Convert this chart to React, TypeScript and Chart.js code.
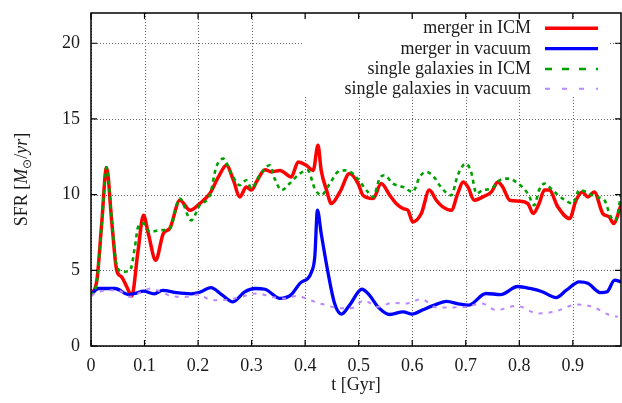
import React, { useEffect, useRef } from 'react';
import { Chart, registerables } from 'chart.js';

Chart.register(...registerables);

const FONT = '"Liberation Serif", "Times New Roman", serif';
const TEXT = '#1a1a1a';

// ---- axes ----
const xTicks = [0, 0.1, 0.2, 0.3, 0.4, 0.5, 0.6, 0.7, 0.8, 0.9];
const xTickLabels = ['0', '0.1', '0.2', '0.3', '0.4', '0.5', '0.6', '0.7', '0.8', '0.9'];
const yTicks = [0, 5, 10, 15, 20];
const yTickLabels = ['0', '5', '10', '15', '20'];
const xMin = 0;
const xMax = 0.99;
const yMin = 0;
const yMax = 22;
const xTitle = 't [Gyr]';

// ---- series names ----
const seriesNames = [
  'merger in ICM',
  'merger in vacuum',
  'single galaxies in ICM',
  'single galaxies in vacuum',
];

// ---- merger in ICM ----
const tMergerICM = [0, 0.011, 0.02, 0.029, 0.039, 0.048, 0.057, 0.067, 0.076, 0.088, 0.098, 0.107, 0.121, 0.135, 0.147, 0.166, 0.185, 0.203, 0.222, 0.238, 0.253, 0.266, 0.278, 0.29, 0.3, 0.31, 0.325, 0.337, 0.353, 0.374, 0.387, 0.402, 0.415, 0.424, 0.43, 0.44, 0.449, 0.465, 0.483, 0.499, 0.508, 0.527, 0.542, 0.558, 0.57, 0.583, 0.592, 0.601, 0.617, 0.632, 0.645, 0.657, 0.673, 0.685, 0.695, 0.704, 0.716, 0.732, 0.748, 0.76, 0.769, 0.782, 0.8, 0.816, 0.826, 0.837, 0.847, 0.856, 0.872, 0.894, 0.906, 0.918, 0.928, 0.94, 0.956, 0.968, 0.976, 0.99];
const sfrMergerICM = [3.4, 4.35, 8.1, 11.8, 8.1, 5.0, 4.57, 3.9, 3.3, 6.33, 8.64, 7.43, 5.67, 7.43, 7.76, 9.63, 8.97, 9.41, 10.07, 11.17, 11.94, 10.95, 9.85, 10.5, 10.3, 10.9, 11.65, 11.5, 11.6, 11.17, 12.16, 11.94, 11.6, 13.26, 11.6, 10.3, 9.41, 10.18, 11.39, 10.73, 9.96, 9.74, 10.73, 9.96, 9.41, 9.08, 8.97, 8.2, 8.75, 10.3, 9.63, 9.19, 8.97, 10.07, 10.84, 10.51, 9.63, 9.85, 10.18, 10.84, 10.51, 9.63, 9.57, 9.41, 8.75, 9.41, 10.3, 10.3, 9.19, 8.42, 9.63, 10.18, 9.85, 10.18, 8.75, 8.53, 8.09, 9.3];

// ---- merger in vacuum ----
const tMergerVac = [0, 0.014, 0.045, 0.07, 0.082, 0.098, 0.118, 0.134, 0.16, 0.187, 0.203, 0.224, 0.244, 0.265, 0.287, 0.307, 0.325, 0.353, 0.373, 0.39, 0.412, 0.418, 0.423, 0.43, 0.443, 0.455, 0.468, 0.483, 0.506, 0.52, 0.536, 0.558, 0.583, 0.6, 0.62, 0.645, 0.664, 0.688, 0.705, 0.738, 0.765, 0.797, 0.82, 0.843, 0.869, 0.888, 0.912, 0.928, 0.952, 0.964, 0.978, 0.99];
const sfrMergerVac = [3.4, 3.8, 3.8, 3.4, 3.47, 3.62, 3.45, 3.67, 3.52, 3.45, 3.55, 3.86, 3.4, 2.92, 3.58, 3.8, 3.75, 3.15, 3.36, 4.13, 4.9, 5.89, 8.97, 7.43, 4.79, 2.81, 2.11, 2.7, 3.75, 3.36, 2.59, 2.08, 2.26, 2.11, 2.4, 2.75, 2.95, 2.77, 2.7, 3.47, 3.4, 3.93, 3.8, 3.58, 3.2, 3.69, 4.24, 4.15, 3.52, 3.58, 4.35, 4.24];

// ---- single galaxies in ICM ----
const tSingleICM = [0, 0.011, 0.02, 0.029, 0.039, 0.048, 0.06, 0.073, 0.082, 0.088, 0.098, 0.11, 0.129, 0.147, 0.166, 0.187, 0.203, 0.222, 0.234, 0.247, 0.262, 0.278, 0.29, 0.3, 0.315, 0.334, 0.343, 0.356, 0.371, 0.39, 0.405, 0.418, 0.43, 0.446, 0.461, 0.474, 0.489, 0.505, 0.517, 0.527, 0.539, 0.548, 0.564, 0.583, 0.601, 0.614, 0.626, 0.642, 0.651, 0.673, 0.685, 0.7, 0.71, 0.72, 0.732, 0.748, 0.763, 0.779, 0.798, 0.816, 0.828, 0.837, 0.847, 0.862, 0.881, 0.9, 0.912, 0.925, 0.943, 0.959, 0.971, 0.98, 0.99];
const sfrSingleICM = [3.3, 4.3, 8.0, 11.8, 8.3, 5.3, 4.9, 5.0, 6.55, 7.87, 8.1, 7.54, 7.65, 7.76, 9.74, 8.3, 9.3, 9.96, 11.83, 12.38, 11.39, 10.62, 10.95, 10.4, 11.28, 11.94, 11.06, 10.3, 10.73, 11.39, 11.6, 10.4, 9.96, 10.73, 11.5, 11.6, 11.39, 10.73, 10.18, 9.85, 11.06, 11.28, 10.73, 10.5, 10.18, 11.17, 11.5, 11.1, 10.62, 9.96, 11.28, 12.05, 11.5, 10.07, 10.3, 10.4, 10.95, 11.06, 10.73, 10.07, 9.3, 10.3, 10.73, 10.3, 9.74, 9.41, 10.3, 10.18, 9.85, 9.63, 8.53, 8.31, 9.96];

// ---- single galaxies in vacuum ----
const tSingleVac = [0, 0.014, 0.05, 0.073, 0.09, 0.113, 0.131, 0.15, 0.18, 0.2, 0.226, 0.256, 0.28, 0.31, 0.337, 0.36, 0.384, 0.402, 0.41, 0.427, 0.44, 0.462, 0.486, 0.51, 0.535, 0.564, 0.59, 0.617, 0.645, 0.67, 0.7, 0.73, 0.757, 0.795, 0.835, 0.865, 0.908, 0.937, 0.965, 0.984];
const sfrSingleVac = [3.3, 3.58, 3.69, 3.25, 3.5, 3.8, 3.58, 3.3, 3.25, 3.4, 3.03, 3.05, 3.25, 3.47, 3.25, 3.14, 3.3, 3.14, 3.03, 2.81, 2.7, 2.5, 2.5, 3.0, 2.59, 2.85, 2.81, 3.1, 2.55, 2.55, 2.59, 2.81, 2.37, 2.65, 2.15, 2.26, 2.74, 2.59, 2.1, 1.93];

const colors = ['#ff0000', '#0000ff', '#00a000', '#b987ff'];
const widths = [3.5, 3.3, 2.6, 2];
const dashes: number[][] = [[], [], [4, 4], [4, 6]];
const legendDashes: number[][] = [[], [], [7, 10], [5, 12]];

const toPts = (t: number[], v: number[]) => t.map((x, i) => ({ x, y: v[i] }));

const framePlugin = {
  id: 'gnuplotFrame',
  beforeDatasetsDraw(chart: any) {
    const { ctx, chartArea: a, scales } = chart;
    const xs = scales.x;
    const ys = scales.y;
    ctx.save();
    ctx.strokeStyle = '#666666';
    ctx.lineWidth = 1;
    ctx.setLineDash([1, 2]);
    xTicks.forEach((v) => {
      const px = Math.round(xs.getPixelForValue(v)) + 0.5;
      ctx.beginPath();
      ctx.moveTo(px, a.top);
      ctx.lineTo(px, a.bottom);
      ctx.stroke();
    });
    yTicks.forEach((v) => {
      const py = Math.round(ys.getPixelForValue(v)) + 0.5;
      ctx.beginPath();
      ctx.moveTo(a.left, py);
      ctx.lineTo(a.right, py);
      ctx.stroke();
    });
    ctx.restore();
  },
  afterDatasetsDraw(chart: any) {
    const { ctx, chartArea: a, scales } = chart;
    const xs = scales.x;
    const ys = scales.y;
    ctx.save();
    // legend box (opaque)
    ctx.fillStyle = '#ffffff';
    ctx.fillRect(303, 19, 307, 78);
    const rowY = [28.3, 48.7, 69, 88.7];
    ctx.font = `18px ${FONT}`;
    ctx.textAlign = 'right';
    ctx.textBaseline = 'alphabetic';
    seriesNames.forEach((name, i) => {
      const y = rowY[i];
      ctx.fillStyle = TEXT;
      ctx.fillText(name, 531, y + 5);
      ctx.strokeStyle = colors[i];
      ctx.lineWidth = widths[i];
      ctx.setLineDash(legendDashes[i]);
      ctx.beginPath();
      ctx.moveTo(545, y);
      ctx.lineTo(598, y);
      ctx.stroke();
    });
    ctx.setLineDash([]);
    // border
    ctx.strokeStyle = '#000';
    ctx.lineWidth = 1.5;
    ctx.strokeRect(a.left, a.top, a.right - a.left, a.bottom - a.top);
    // tick marks (inward, mirrored)
    ctx.lineWidth = 1.2;
    const tl = 6;
    xTicks.forEach((v) => {
      const px = xs.getPixelForValue(v);
      ctx.beginPath();
      ctx.moveTo(px, a.bottom);
      ctx.lineTo(px, a.bottom - tl);
      ctx.moveTo(px, a.top);
      ctx.lineTo(px, a.top + tl);
      ctx.stroke();
    });
    yTicks.forEach((v) => {
      const py = ys.getPixelForValue(v);
      ctx.beginPath();
      ctx.moveTo(a.left, py);
      ctx.lineTo(a.left + tl, py);
      ctx.moveTo(a.right, py);
      ctx.lineTo(a.right - tl, py);
      ctx.stroke();
    });
    // x title
    ctx.fillStyle = TEXT;
    ctx.font = `18px ${FONT}`;
    ctx.textAlign = 'center';
    ctx.textBaseline = 'middle';
    ctx.fillText(xTitle, (a.left + a.right) / 2, 385);
    // y title: SFR [M_sun / yr] with italics
    const segs = [
      { t: 'SFR [', f: `18px ${FONT}`, dy: 0 },
      { t: 'M', f: `italic 18px ${FONT}`, dy: 0 },
      { t: '\u2299', f: `12px ${FONT}`, dy: 4 },
      { t: '/', f: `18px ${FONT}`, dy: 0 },
      { t: 'yr', f: `italic 18px ${FONT}`, dy: 0 },
      { t: ']', f: `18px ${FONT}`, dy: 0 },
    ];
    let total = 0;
    const ws = segs.map((s) => {
      ctx.font = s.f;
      const w = ctx.measureText(s.t).width;
      total += w;
      return w;
    });
    ctx.translate(21, (a.top + a.bottom) / 2);
    ctx.rotate(-Math.PI / 2);
    ctx.textAlign = 'left';
    ctx.textBaseline = 'alphabetic';
    let cx = -total / 2;
    segs.forEach((s, i) => {
      ctx.font = s.f;
      ctx.fillText(s.t, cx, 6 + s.dy);
      cx += ws[i];
    });
    ctx.restore();
  },
};

export default function App() {
  const ref = useRef<HTMLCanvasElement | null>(null);
  useEffect(() => {
    if (!ref.current) return;
    const series = [
      toPts(tMergerICM, sfrMergerICM),
      toPts(tMergerVac, sfrMergerVac),
      toPts(tSingleICM, sfrSingleICM),
      toPts(tSingleVac, sfrSingleVac),
    ];
    const chart = new Chart(ref.current, {
      type: 'line',
      data: {
        datasets: series.map((d, i) => ({
          label: seriesNames[i],
          data: d,
          borderColor: colors[i],
          backgroundColor: colors[i],
          borderWidth: widths[i],
          borderDash: dashes[i],
          pointRadius: 0,
          fill: false,
          cubicInterpolationMode: 'monotone' as const,
          order: 4 - i,
        })),
      },
      options: {
        responsive: false,
        animation: false,
        devicePixelRatio: 1,
        layout: { padding: { top: 13, right: 1, left: 0, bottom: 0 } },
        plugins: { legend: { display: false }, tooltip: { enabled: false } },
        scales: {
          x: {
            type: 'linear',
            min: xMin,
            max: xMax,
            grid: { display: false, drawTicks: false },
            border: { display: false },
            afterBuildTicks: (s: any) => {
              s.ticks = xTicks.map((v) => ({ value: v }));
            },
            afterFit: (s: any) => {
              s.height = 57;
              s.paddingLeft = 0;
              s.paddingRight = 0;
            },
            ticks: {
              font: { family: FONT, size: 18 },
              color: TEXT,
              padding: 9,
              maxRotation: 0,
              autoSkip: false,
              callback: (_v: any, i: number) => xTickLabels[i],
            },
          },
          y: {
            type: 'linear',
            min: yMin,
            max: yMax,
            grid: { display: false, drawTicks: false },
            border: { display: false },
            afterBuildTicks: (s: any) => {
              s.ticks = yTicks.map((v) => ({ value: v }));
            },
            afterFit: (s: any) => {
              s.width = 91;
              s.paddingTop = 0;
              s.paddingBottom = 0;
            },
            ticks: {
              font: { family: FONT, size: 18 },
              color: TEXT,
              padding: 11,
              autoSkip: false,
              callback: (_v: any, i: number) => yTickLabels[i],
            },
          },
        },
      },
      plugins: [framePlugin],
    });
    return () => chart.destroy();
  }, []);
  return (
    <div style={{ position: 'absolute', left: 0, top: 0, width: 622, height: 403, background: '#fff' }}>
      <canvas ref={ref} width={622} height={403} style={{ width: 622, height: 403, display: 'block' }} />
    </div>
  );
}
